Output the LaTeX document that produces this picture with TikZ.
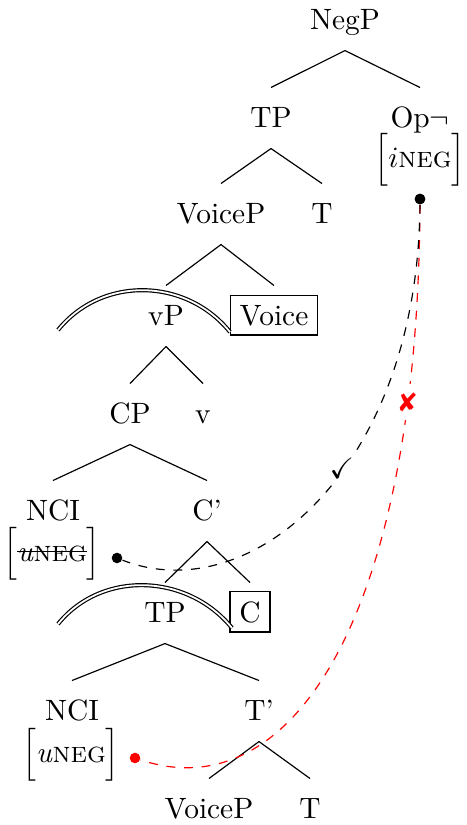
\documentclass[tikz,border=0pt]{standalone}
\usepackage{amsmath,amssymb}
\usepackage{pifont}
\usepackage{tikz}
\usetikzlibrary{calc}

\newcommand{\featbr}[1]{$\Big[$#1$\Big]$}
\newcommand{\strk}[1]{\setbox0\hbox{#1}\rlap{\rule[0.3em]{\wd0}{0.4pt}}\box0}

\begin{document}
\begin{tikzpicture}[
    x=0.34pt, y=0.34pt,
    lbl/.style={anchor=base, inner sep=3.33pt, text height=9.9pt, text depth=3.8pt},
    feat/.style={anchor=base, inner sep=0pt},
    branch/.style={line width=0.4pt},
    phase/.style={double, line width=0.4pt, double distance=0.6pt},
    agree/.style={dashed, line width=0.4pt},
    dot/.style={circle, fill, inner sep=0pt, minimum size=3.6pt},
  ]
    \useasboundingbox (0,0) rectangle (466,-825);

    % Upper part: NegP down to vP
    \node[lbl] (NegP)  at (345,-29)  {NegP};
    \node[lbl] (TPa)   at (271,-127) {TP};
    \node[lbl] (Op)    at (420,-127) {Op$\neg$};
    \node[feat] (OpF)  at (420,-167) {\featbr{$i$\textsc{neg}}};
    \node[lbl] (VPa)   at (221,-223) {VoiceP};
    \node[lbl] (Ta)    at (322,-223) {T};
    \node[lbl] (vP)    at (166,-325) {vP};
    \node[lbl] (Voice) at (274,-325) {\fbox{Voice}};
    \node[lbl] (CP)    at (130,-423) {CP};
    \node[lbl] (v)     at (203,-423) {v};

    % Embedded CP
    \node[lbl] (NCIa)  at (53,-520)  {NCI};
    \node[feat] (NCIaF) at (52,-561) {\featbr{\strk{\textit{u}\textsc{neg}}}};
    \node[lbl] (Cbar)  at (207,-520) {C'};
    \node[lbl] (TPb)   at (165,-622) {TP};
    \node[lbl] (C)     at (250,-622) {\fbox{C}};
    \node[lbl] (NCIb)  at (72,-720)  {NCI};
    \node[feat] (NCIbF) at (71,-762) {\featbr{\textit{u}\textsc{neg}}};
    \node[lbl] (Tbar)  at (259,-720) {T'};
    \node[lbl] (VPb)   at (209,-818) {VoiceP};
    \node[lbl] (Tb)    at (310,-818) {T};

    % Branches
    \foreach \p/\c in {NegP/TPa, NegP/Op, TPa/VPa, TPa/Ta, VPa/vP, VPa/Voice,
                       vP/CP, vP/v, CP/NCIa, CP/Cbar, Cbar/TPb, Cbar/C,
                       TPb/NCIb, TPb/Tbar, Tbar/VPb, Tbar/Tb}
      \draw[branch] (\p.south) -- (\c.north);

    % Phase boundaries
    \coordinate (PhA1) at (58,-330);
    \coordinate (PhA2) at (230,-332);
    \coordinate (PhB1) at (58,-624);
    \coordinate (PhB2) at (232,-628);
    \draw[phase] (PhA1) .. controls (102,-275.6) and (186,-277.6) .. (PhA2);
    \draw[phase] (PhB1) .. controls (102,-569.6) and (188,-573.6) .. (PhB2);

    % Agree relations
    \node[dot]      (D0) at (420,-199) {};
    \node[dot]      (D1) at (117,-558) {};
    \node[dot, red] (D2) at (135,-758) {};
    \draw[agree, red] (D0) .. controls (418,-620) and (290,-810) .. (D2)
      node[pos=0.175, fill=white, inner sep=3pt, text=red] (NoMark) {\small\ding{56}};
    \draw[agree] (D0) .. controls (418,-470) and (250,-610) .. (D1)
      node[pos=0.42, xshift=-1pt, fill=white, inner sep=2.5pt] (OkMark) {$\checkmark$};
    \node[dot] at (D0) {};
  \end{tikzpicture}
\end{document}
